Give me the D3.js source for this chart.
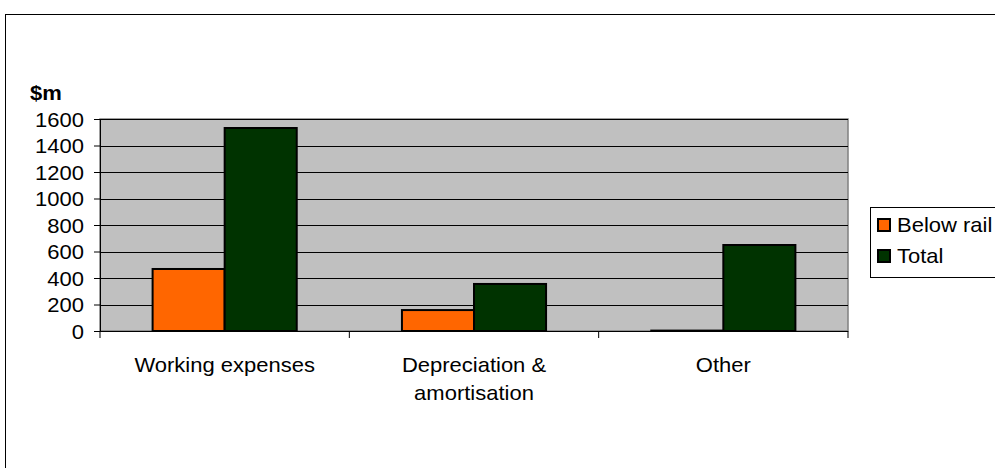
<!DOCTYPE html>
<html>
<head>
<meta charset="utf-8">
<script src="https://cdn.jsdelivr.net/npm/d3@7"></script>
<style>
  body { margin: 0; background: #fff; }
  svg text { font-family: "Liberation Sans", Arial, sans-serif; fill: #000; }
</style>
</head>
<body>
<svg id="chart" width="995" height="468"></svg>
<script>
// data
var categories = ["Working expenses", "Depreciation & amortisation", "Other"];
var seriesNames = ["Below rail", "Total"];
var belowRail = [468, 158, 3];
var total = [1532, 355, 649];
var yTicks = [0, 200, 400, 600, 800, 1000, 1200, 1400, 1600];
var colors = ["#FF6600", "#003300"];

var fs = 20, sx = 1.1; // text is a bit wide in the original

var svg = d3.select("#chart");

// puts a horizontally stretched text at (px,py)
function addText(parent, px, py, str, anchor) {
  return parent.append("text")
    .attr("transform", "translate(" + px + "," + py + ") scale(" + sx + ",1)")
    .attr("text-anchor", anchor || "start")
    .style("font-size", fs + "px")
    .text(str);
}

// outer frame (runs off the right/bottom edge)
svg.append("rect")
  .attr("x", 5.5).attr("y", 14.5)
  .attr("width", 1000).attr("height", 500)
  .attr("fill", "none").attr("stroke", "#000");

var pLeft = 100, pRight = 848, pTop = 119, pBottom = 331;

var x = d3.scaleBand().domain(categories).range([pLeft, pRight]).paddingInner(0).paddingOuter(0);
var x1 = d3.scaleBand().domain(seriesNames).range([0, x.bandwidth()]).paddingInner(0).paddingOuter(0.73);
var y = d3.scaleLinear().domain([0, 1600]).range([pBottom, pTop]);

// plot area
svg.append("rect")
  .attr("x", pLeft).attr("y", pTop)
  .attr("width", pRight - pLeft).attr("height", pBottom - pTop)
  .attr("fill", "#C0C0C0").attr("stroke", "#808080").attr("stroke-width", 1.5);

// gridlines
svg.append("g").selectAll("line")
  .data(yTicks.filter(function(d){ return d > 0; }))
  .enter().append("line")
  .attr("x1", pLeft).attr("x2", pRight)
  .attr("y1", function(d){ return Math.round(y(d)) + 0.5; })
  .attr("y2", function(d){ return Math.round(y(d)) + 0.5; })
  .attr("stroke", "#000").attr("stroke-width", 1);

// bars
var rows = categories.map(function(c, i){
  return [{cat: c, s: seriesNames[0], v: belowRail[i], k: 0},
          {cat: c, s: seriesNames[1], v: total[i], k: 1}];
});
svg.append("g").selectAll("g")
  .data(rows).enter().append("g")
  .attr("transform", function(d){ return "translate(" + x(d[0].cat) + ",0)"; })
  .selectAll("rect")
  .data(function(d){ return d; })
  .enter().append("rect")
  .attr("x", function(d){ return x1(d.s); })
  .attr("width", x1.bandwidth())
  .attr("y", function(d){ return y(d.v); })
  .attr("height", function(d){ return y(0) - y(d.v); })
  .attr("fill", function(d){ return colors[d.k]; })
  .attr("stroke", "#000").attr("stroke-width", 2);

// y axis
var yAxis = svg.append("g")
  .attr("transform", "translate(" + pLeft + ",0)")
  .call(d3.axisLeft(y).tickValues(yTicks).tickSize(6).tickPadding(6).tickFormat(d3.format("d")));
yAxis.select(".domain").attr("stroke", "#000");
yAxis.selectAll("line").attr("stroke", "#000");
yAxis.selectAll("text")
  .attr("x", null).attr("dy", null)
  .attr("transform", "translate(-16,7) scale(" + sx + ",1)")
  .style("font-size", fs + "px")
  .style("font-family", "'Liberation Sans', Arial, sans-serif");

// x axis
svg.append("line")
  .attr("x1", pLeft).attr("x2", pRight)
  .attr("y1", pBottom + 0.5).attr("y2", pBottom + 0.5)
  .attr("stroke", "#000");
svg.append("g").selectAll("line")
  .data(d3.range(categories.length + 1))
  .enter().append("line")
  .attr("x1", function(i){ return pLeft + i * x.bandwidth(); })
  .attr("x2", function(i){ return pLeft + i * x.bandwidth(); })
  .attr("y1", pBottom).attr("y2", pBottom + 7)
  .attr("stroke", "#000");

// category labels
var catLines = [["Working expenses"], ["Depreciation &", "amortisation"], ["Other"]];
categories.forEach(function(c, i){
  catLines[i].forEach(function(l, j){
    addText(svg, x(c) + x.bandwidth() / 2, 372 + j * 28, l, "middle");
  });
});

// unit title
addText(svg, 30, 100, "$m").style("font-weight", "bold");

// legend
var lg = svg.append("g").attr("transform", "translate(870,207)");
lg.append("rect").attr("x", 0.5).attr("y", 0.5).attr("width", 200).attr("height", 70)
  .attr("fill", "#fff").attr("stroke", "#000");
seriesNames.forEach(function(s, i){
  lg.append("rect").attr("x", 8).attr("y", 12 + i * 31).attr("width", 12).attr("height", 12)
    .attr("fill", colors[i]).attr("stroke", "#000").attr("stroke-width", 2);
  addText(lg, 27, 25 + i * 31, s);
});
</script>
</body>
</html>
